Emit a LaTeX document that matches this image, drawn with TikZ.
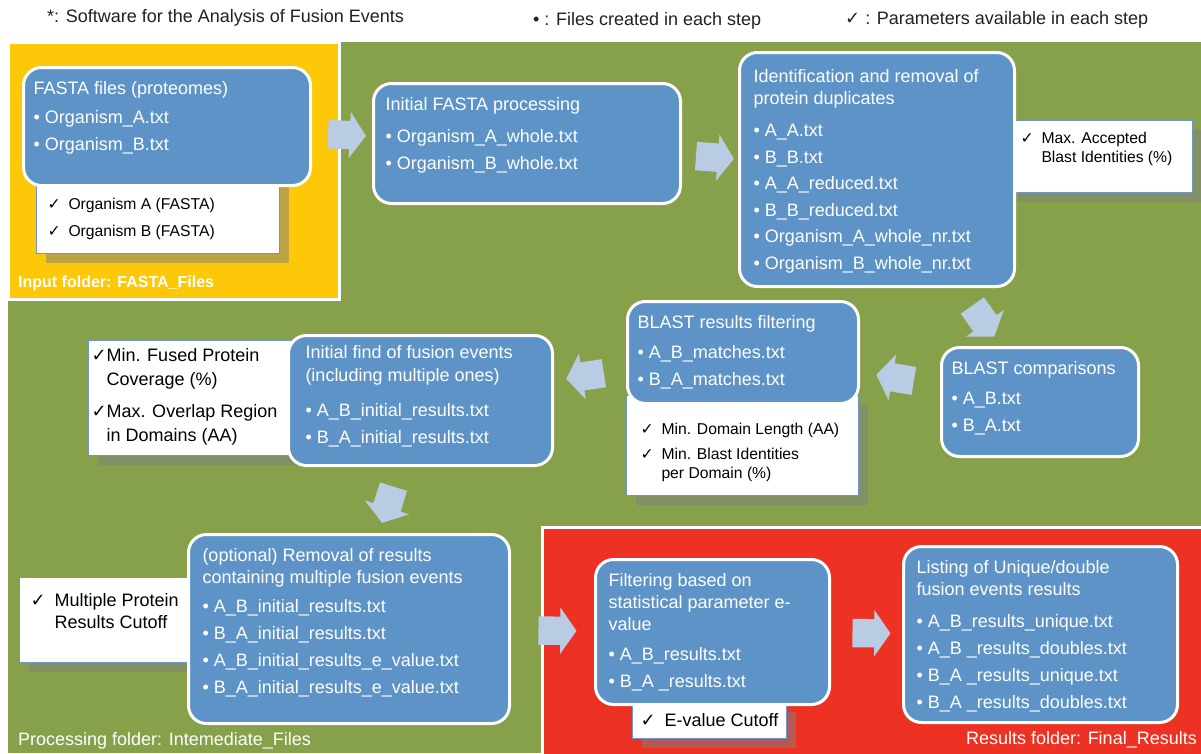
\documentclass[tikz,border=0pt]{standalone}
\usepackage{fontspec}
\setmainfont{Liberation Sans}
\newfontfamily\symfont{DejaVu Sans}
\usetikzlibrary{shapes.arrows, shadows}

\definecolor{inputyellow}{RGB}{252,200,8}
\definecolor{procgreen}{RGB}{135,160,74}
\definecolor{resultred}{RGB}{237,50,36}
\definecolor{stepblue}{RGB}{94,147,199}
\definecolor{flowblue}{RGB}{185,204,228}
\definecolor{paramline}{RGB}{110,150,205}
\definecolor{shadowgray}{RGB}{128,128,128}

\newcommand{\chk}{{\symfont\bfseries ✓}}
\newcommand{\steptext}[3]{\parbox[t][#2][t]{#1}{\raggedright\strut #3}}

\begin{document}
\begin{tikzpicture}[x=1pt, y=-1pt,
    every node/.style={font={\fontsize{18}{22}\selectfont}},
    stepbox/.style={draw=white, line width=3pt, fill=stepblue, rounded corners=18pt, text=white, anchor=north west, inner xsep=12pt, inner ysep=12pt},
    parambox/.style={draw=paramline, line width=1pt, fill=white, anchor=north west, inner sep=0pt, general shadow={fill=shadowgray, opacity=0.5, shadow xshift=9pt, shadow yshift=-9pt}},
    smallparam/.style={font={\fontsize{15.7}{19}\selectfont}},
    blockarrow/.style={single arrow, fill=flowblue, minimum height=38pt, minimum width=46pt, inner xsep=0pt, inner ysep=14pt, single arrow head extend=9pt, single arrow tip angle=110, sloped, allow upside down},
    note/.style={anchor=west, inner sep=0pt, text=black!87},
    foldertext/.style={anchor=west, inner sep=0pt, text=white}]
    \fill[white] (0,0) rectangle (1201,753);
    \useasboundingbox (0,0) rectangle (1201,753);

    \fill[procgreen] (8,42) rectangle (1201,753);
    \draw[white, line width=3pt, fill=inputyellow] (8,42) rectangle (339,299);
    \draw[white, line width=3pt, fill=resultred] (542,527) rectangle (1210,760);

    \node[parambox, smallparam, inner xsep=11pt, inner ysep=20.3pt] (fastaparam) at (36,175) {\steptext{221pt}{37.4pt}{\chk\enspace Organism A (FASTA)\\[8pt]\chk\enspace Organism B (FASTA)}};
    \node[parambox, smallparam, inner xsep=12pt, inner ysep=9.3pt] (dupparam) at (1008,120) {\steptext{160pt}{53.4pt}{\chk\enspace Max. Accepted\\\hphantom{\chk\enspace}Blast Identities (\%)}};
    \node[parambox, smallparam, inner xsep=14pt, inner ysep=25.3pt] (filtparam) at (626,395) {\steptext{204pt}{49.4pt}{\chk\enspace Min. Domain Length (AA)\\[6pt]\chk\enspace Min. Blast Identities\\\hphantom{\chk\enspace}per Domain (\%)}};
    \node[parambox, inner xsep=3pt, inner ysep=6pt] (findparam) at (88,340) {\steptext{198pt}{103pt}{\chk Min. Fused Protein\\[2pt]\hphantom{\chk}Coverage (\%)\\[10pt]\chk Max. Overlap Region\\[2pt]\hphantom{\chk}in Domains (AA)}};
    \node[parambox, inner xsep=11pt, inner ysep=14pt] (optparam) at (19,577) {\steptext{160pt}{57pt}{\chk\enspace Multiple Protein\\\hphantom{\chk\enspace}Results Cutoff}};
    \node[parambox, minimum width=154pt, minimum height=36pt] (evalueparam) at (632,702) {\chk\enspace E-value Cutoff};

    \node[stepbox, inner xsep=10pt] (fasta) at (22,66) {\steptext{267pt}{94pt}{FASTA files (proteomes)\\[7pt]\textbullet\ Organism\_A.txt\\[5pt]\textbullet\ Organism\_B.txt}};
    \node[stepbox] (init) at (372,82) {\steptext{283pt}{96pt}{Initial FASTA processing\\[10pt]\textbullet\ Organism\_A\_whole.txt\\[5pt]\textbullet\ Organism\_B\_whole.txt}};
    \node[stepbox, inner xsep=14pt, inner ysep=15pt] (dup) at (738,51) {\steptext{247pt}{204pt}{Identification and removal of\\protein duplicates\\[10pt]\textbullet\ A\_A.txt\\[4.5pt]\textbullet\ B\_B.txt\\[4.5pt]\textbullet\ A\_A\_reduced.txt\\[4.5pt]\textbullet\ B\_B\_reduced.txt\\[4.5pt]\textbullet\ Organism\_A\_whole\_nr.txt\\[4.5pt]\textbullet\ Organism\_B\_whole\_nr.txt}};
    \node[stepbox, inner xsep=10pt] (blast) at (940,346) {\steptext{177pt}{85pt}{BLAST comparisons\\[8pt]\textbullet\ A\_B.txt\\[5pt]\textbullet\ B\_A.txt}};
    \node[stepbox, inner xsep=10pt] (filt) at (626,300) {\steptext{211pt}{78pt}{BLAST results filtering\\[8pt]\textbullet\ A\_B\_matches.txt\\[5pt]\textbullet\ B\_A\_matches.txt}};
    \node[stepbox, inner xsep=17pt, inner ysep=8pt] (find) at (287,334) {\steptext{230pt}{114pt}{Initial find of fusion events\\[1pt](including multiple ones)\\[13pt]\textbullet\ A\_B\_initial\_results.txt\\[5pt]\textbullet\ B\_A\_initial\_results.txt}};
    \node[stepbox, inner xsep=14pt] (opt) at (187,533) {\steptext{293pt}{165pt}{(optional) Removal of results\\containing multiple fusion events\\[7pt]\textbullet\ A\_B\_initial\_results.txt\\[5pt]\textbullet\ B\_A\_initial\_results.txt\\[5pt]\textbullet\ A\_B\_initial\_results\_e\_value.txt\\[5pt]\textbullet\ B\_A\_initial\_results\_e\_value.txt}};
    \node[stepbox, inner xsep=13pt] (evalue) at (594,558) {\steptext{208pt}{121pt}{Filtering based on\\statistical parameter e-\\value\\[8pt]\textbullet\ A\_B\_results.txt\\[5pt]\textbullet\ B\_A \_results.txt}};
    \node[stepbox, inner xsep=13pt] (listing) at (902,545) {\steptext{248pt}{152pt}{Listing of Unique/double\\fusion events results\\[10pt]\textbullet\ A\_B\_results\_unique.txt\\[5pt]\textbullet\ A\_B \_results\_doubles.txt\\[5pt]\textbullet\ B\_A \_results\_unique.txt\\[5pt]\textbullet\ B\_A \_results\_doubles.txt}};

    \path (fasta) -- node[blockarrow] (fastatoinit) {} (init);
    \path (init) -- node[blockarrow] (inittodup) {} (dup);
    \path (dup) -- node[blockarrow] (duptoblast) {} (blast);
    \path (blast) -- node[blockarrow] (blasttofilt) {} (filt);
    \path (filt) -- node[blockarrow] (filttofind) {} (find);
    \path (find) -- node[blockarrow] (findtoopt) {} (opt);
    \path (opt) -- node[blockarrow] (opttoevalue) {} (evalue);
    \path (evalue) -- node[blockarrow] (evaluetolisting) {} (listing);

    \node[note] (starnote) at (47,18) {*: Software for the Analysis of Fusion Events};
    \node[note] (bulletnote) at (533,21) {\textbullet\ : Files created in each step};
    \node[note] (checknote) at (845,20) {\chk\ : Parameters available in each step};
    \node[foldertext, font={\fontsize{16}{19}\selectfont\bfseries}] (inputlabel) at (18,283) {Input folder: FASTA\_Files};
    \node[foldertext] (proclabel) at (18,741) {Processing folder: Intemediate\_Files};
    \node[foldertext, anchor=east] (resultlabel) at (1197,740) {Results folder: Final\_Results};
\end{tikzpicture}
\end{document}
